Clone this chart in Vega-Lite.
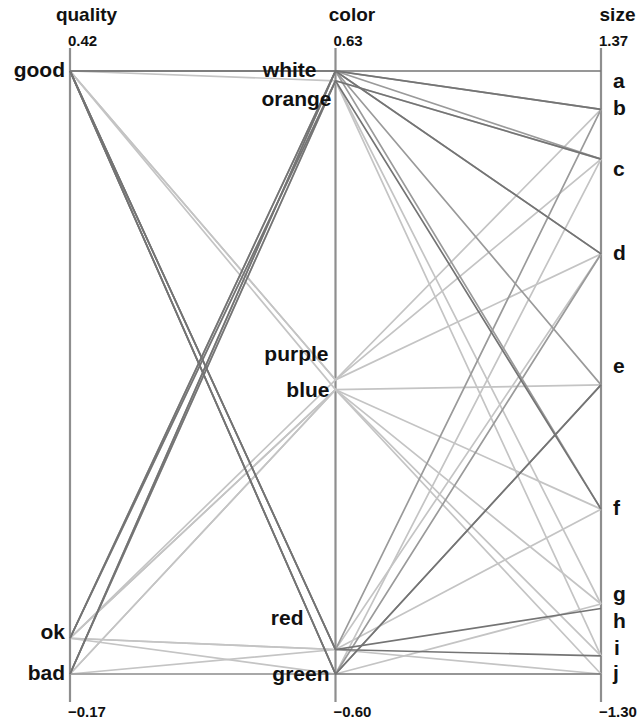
{
  "$schema": "https://vega.github.io/schema/vega-lite/v6.json",
  "autosize": "none",
  "width": 531,
  "height": 654,
  "padding": {"left": 70, "top": 48, "right": 41, "bottom": 19},
  "background": "white",
  "config": {
    "view": {"stroke": null},
    "text": {"font": "Liberation Sans", "fontSize": 21, "fontWeight": "bold", "color": "#111111"}
  },
  "datasets": {
    "scores": [
      {"axis": "quality", "category": "good", "score": 0.42},
      {"axis": "quality", "category": "ok", "score": -0.135},
      {"axis": "quality", "category": "bad", "score": -0.17},
      {"axis": "color", "category": "white", "score": 0.63},
      {"axis": "color", "category": "orange", "score": 0.61},
      {"axis": "color", "category": "purple", "score": 0.0},
      {"axis": "color", "category": "blue", "score": -0.02},
      {"axis": "color", "category": "red", "score": -0.55},
      {"axis": "color", "category": "green", "score": -0.6},
      {"axis": "size", "category": "a", "score": 1.37},
      {"axis": "size", "category": "b", "score": 1.2},
      {"axis": "size", "category": "c", "score": 0.98},
      {"axis": "size", "category": "d", "score": 0.56},
      {"axis": "size", "category": "e", "score": -0.02},
      {"axis": "size", "category": "f", "score": -0.57},
      {"axis": "size", "category": "g", "score": -0.99},
      {"axis": "size", "category": "h", "score": -1.01},
      {"axis": "size", "category": "i", "score": -1.22},
      {"axis": "size", "category": "j", "score": -1.3}
    ],
    "items": [
      {"id": 1, "quality": "good", "color": "orange", "size": "c", "weight": 1},
      {"id": 2, "quality": "ok", "color": "orange", "size": "g", "weight": 1},
      {"id": 3, "quality": "bad", "color": "orange", "size": "i", "weight": 1},
      {"id": 4, "quality": "good", "color": "purple", "size": "d", "weight": 1},
      {"id": 5, "quality": "good", "color": "blue", "size": "e", "weight": 1},
      {"id": 6, "quality": "ok", "color": "purple", "size": "c", "weight": 1},
      {"id": 7, "quality": "ok", "color": "blue", "size": "f", "weight": 1},
      {"id": 8, "quality": "bad", "color": "blue", "size": "g", "weight": 1},
      {"id": 9, "quality": "ok", "color": "blue", "size": "i", "weight": 1},
      {"id": 10, "quality": "good", "color": "purple", "size": "b", "weight": 1},
      {"id": 11, "quality": "ok", "color": "red", "size": "d", "weight": 1},
      {"id": 12, "quality": "ok", "color": "green", "size": "c", "weight": 1},
      {"id": 13, "quality": "bad", "color": "red", "size": "f", "weight": 1},
      {"id": 14, "quality": "bad", "color": "green", "size": "g", "weight": 1},
      {"id": 15, "quality": "ok", "color": "red", "size": "j", "weight": 1},
      {"id": 16, "quality": "bad", "color": "blue", "size": "j", "weight": 1},
      {"id": 17, "quality": "good", "color": "white", "size": "b", "weight": 2},
      {"id": 18, "quality": "ok", "color": "white", "size": "e", "weight": 2},
      {"id": 19, "quality": "bad", "color": "white", "size": "c", "weight": 2},
      {"id": 20, "quality": "good", "color": "white", "size": "d", "weight": 2},
      {"id": 21, "quality": "good", "color": "red", "size": "b", "weight": 2},
      {"id": 22, "quality": "good", "color": "green", "size": "d", "weight": 2},
      {"id": 23, "quality": "bad", "color": "green", "size": "e", "weight": 2},
      {"id": 24, "quality": "good", "color": "white", "size": "f", "weight": 2},
      {"id": 25, "quality": "good", "color": "white", "size": "a", "weight": 3},
      {"id": 26, "quality": "ok", "color": "white", "size": "b", "weight": 3},
      {"id": 27, "quality": "ok", "color": "orange", "size": "c", "weight": 3},
      {"id": 28, "quality": "bad", "color": "white", "size": "d", "weight": 3},
      {"id": 29, "quality": "bad", "color": "orange", "size": "f", "weight": 3},
      {"id": 30, "quality": "good", "color": "red", "size": "h", "weight": 3},
      {"id": 31, "quality": "good", "color": "red", "size": "i", "weight": 3},
      {"id": 32, "quality": "good", "color": "green", "size": "e", "weight": 3},
      {"id": 33, "quality": "good", "color": "green", "size": "j", "weight": 3}
    ]
  },
  "encoding": {
    "x": {
      "field": "axis",
      "type": "nominal",
      "sort": ["quality", "color", "size"],
      "scale": {"type": "point", "padding": 0},
      "axis": {
        "orient": "top",
        "title": null,
        "domain": false,
        "ticks": false,
        "labelAngle": 0,
        "labelFont": "Liberation Sans",
        "labelFontSize": 19,
        "labelFontWeight": "bold",
        "labelColor": "#111111",
        "labelPadding": 24,
        "labelOffset": 16
      }
    }
  },
  "layer": [
    {
      "data": {"name": "scores"},
      "transform": [{"aggregate": [{"op": "min", "field": "score", "as": "lo"}], "groupby": ["axis"]}],
      "mark": {"type": "rule", "color": "#8e8e8e", "strokeWidth": 2.2},
      "encoding": {}
    },
    {
      "data": {"name": "items"},
      "transform": [
        {"fold": ["quality", "color", "size"], "as": ["axis", "category"]},
        {"lookup": "category", "from": {"data": {"name": "scores"}, "key": "category", "fields": ["score"]}},
        {"joinaggregate": [{"op": "min", "field": "score", "as": "lo"}, {"op": "max", "field": "score", "as": "hi"}], "groupby": ["axis"]},
        {"calculate": "(datum.score - datum.lo) / (datum.hi - datum.lo)", "as": "norm"}
      ],
      "mark": {"type": "line", "strokeWidth": 1.7},
      "encoding": {
        "y": {"field": "norm", "type": "quantitative", "scale": {"domain": [-0.0464, 1.0381], "nice": false, "zero": false}, "axis": null},
        "detail": {"field": "id", "type": "nominal"},
        "color": {"field": "weight", "type": "ordinal", "scale": {"domain": [1, 2, 3], "range": ["#c4c4c4", "#9a9a9a", "#747474"]}, "legend": null}
      }
    },
    {
      "data": {"name": "scores"},
      "transform": [{"aggregate": [{"op": "min", "field": "score", "as": "lo"}, {"op": "max", "field": "score", "as": "hi"}], "groupby": ["axis"]}],
      "layer": [
        {
          "mark": {"type": "text", "align": "left", "baseline": "bottom", "dx": -2, "dy": 1, "font": "Liberation Sans", "fontSize": 15, "fontWeight": "bold"},
          "encoding": {
            "y": {"datum": 1.0381, "type": "quantitative", "scale": {"domain": [-0.0464, 1.0381], "nice": false, "zero": false}, "axis": null},
            "text": {"field": "hi", "type": "quantitative", "format": ".2f"}
          }
        },
        {
          "mark": {"type": "text", "align": "left", "baseline": "top", "dx": -2, "dy": 3, "font": "Liberation Sans", "fontSize": 15, "fontWeight": "bold"},
          "encoding": {
            "y": {"datum": -0.0464, "type": "quantitative", "scale": {"domain": [-0.0464, 1.0381], "nice": false, "zero": false}, "axis": null},
            "text": {"field": "lo", "type": "quantitative", "format": ".2f"}
          }
        }
      ]
    },
    {
      "data": {"name": "scores"},
      "transform": [
        {"joinaggregate": [{"op": "min", "field": "score", "as": "lo"}, {"op": "max", "field": "score", "as": "hi"}], "groupby": ["axis"]},
        {"calculate": "(datum.score - datum.lo) / (datum.hi - datum.lo)", "as": "norm"}
      ],
      "encoding": {
        "y": {"field": "norm", "type": "quantitative", "scale": {"domain": [-0.0464, 1.0381], "nice": false, "zero": false}, "axis": null},
        "text": {"field": "category", "type": "nominal"}
      },
      "layer": [
        {"transform": [{"filter": {"field": "category", "oneOf": ["good", "bad"]}}], "mark": {"type": "text", "align": "right", "baseline": "middle", "dx": -5, "dy": 0}},
        {"transform": [{"filter": {"field": "category", "oneOf": ["ok"]}}], "mark": {"type": "text", "align": "right", "baseline": "middle", "dx": -5, "dy": -5}},
        {"transform": [{"filter": {"field": "category", "oneOf": ["blue", "green"]}}], "mark": {"type": "text", "align": "right", "baseline": "middle", "dx": -6, "dy": 1}},
        {"transform": [{"filter": {"field": "category", "oneOf": ["white"]}}], "mark": {"type": "text", "align": "right", "baseline": "middle", "dx": -19, "dy": 0}},
        {"transform": [{"filter": {"field": "category", "oneOf": ["orange"]}}], "mark": {"type": "text", "align": "right", "baseline": "middle", "dx": -4, "dy": 19}},
        {"transform": [{"filter": {"field": "category", "oneOf": ["purple"]}}], "mark": {"type": "text", "align": "right", "baseline": "middle", "dx": -7, "dy": -25}},
        {"transform": [{"filter": {"field": "category", "oneOf": ["red"]}}], "mark": {"type": "text", "align": "right", "baseline": "middle", "dx": -32, "dy": -31}},
        {"transform": [{"filter": {"field": "category", "oneOf": ["b", "d", "f", "j"]}}], "mark": {"type": "text", "align": "left", "baseline": "middle", "dx": 12, "dy": 0}},
        {"transform": [{"filter": {"field": "category", "oneOf": ["g"]}}], "mark": {"type": "text", "align": "left", "baseline": "middle", "dx": 12, "dy": -9}},
        {"transform": [{"filter": {"field": "category", "oneOf": ["i"]}}], "mark": {"type": "text", "align": "left", "baseline": "middle", "dx": 13, "dy": -7}},
        {"transform": [{"filter": {"field": "category", "oneOf": ["e"]}}], "mark": {"type": "text", "align": "left", "baseline": "middle", "dx": 12, "dy": -18}},
        {"transform": [{"filter": {"field": "category", "oneOf": ["a", "c"]}}], "mark": {"type": "text", "align": "left", "baseline": "middle", "dx": 12, "dy": 11}},
        {"transform": [{"filter": {"field": "category", "oneOf": ["h"]}}], "mark": {"type": "text", "align": "left", "baseline": "middle", "dx": 12, "dy": 13}}
      ]
    }
  ]
}
